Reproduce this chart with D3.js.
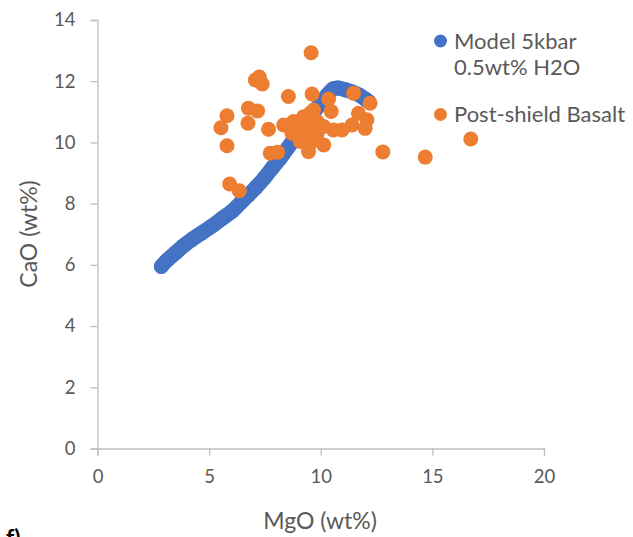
<!DOCTYPE html>
<html>
<head>
<meta charset="utf-8">
<script src="https://cdn.jsdelivr.net/npm/d3@7"></script>
<style>
  html, body { margin: 0; padding: 0; background: #fff; }
  svg { display: block; }
  text { font-family: Lato, "Open Sans", sans-serif; fill: #595959; }
</style>
</head>
<body>
<svg id="chart" width="633" height="537"></svg>
<script>
// Model liquid line of descent (5 kbar, 0.5 wt% H2O): MgO and CaO in wt%
const modelMgO = [2.86, 3.13, 3.49, 3.85, 4.25, 4.70, 5.15, 5.59, 6.04, 6.40, 6.76, 7.11,
                  7.47, 7.83, 8.19, 8.55, 8.90, 9.26, 9.62, 9.98, 10.29, 10.56, 10.78,
                  11.10, 11.41, 11.72, 11.99, 12.17];
const modelCaO = [5.95, 6.16, 6.39, 6.62, 6.84, 7.06, 7.28, 7.52, 7.76, 8.02, 8.28, 8.54,
                  8.84, 9.17, 9.49, 9.85, 10.21, 10.57, 10.93, 11.26, 11.55, 11.75, 11.78,
                  11.72, 11.65, 11.55, 11.42, 11.32];

// Post-shield basalt analyses: MgO and CaO in wt%
const basaltMgO = [9.57, 7.07, 7.25, 7.38, 8.55, 9.61, 10.35, 11.47, 12.21, 10.47, 9.68,
                   11.69, 12.07, 11.99, 11.40, 10.95, 10.57, 10.13, 8.34, 8.78, 9.23, 9.53,
                   9.83, 8.86, 9.38, 9.08, 9.53, 10.13, 9.45, 9.01, 9.83, 8.71, 6.76, 7.17,
                   5.80, 5.53, 6.74, 7.66, 5.80, 7.74, 8.07, 5.92, 6.35, 12.78, 14.68, 16.72,
                   9.26];
const basaltCaO = [12.93, 12.04, 12.14, 11.91, 11.50, 11.58, 11.42, 11.61, 11.28, 11.01, 11.06,
                   10.95, 10.74, 10.46, 10.57, 10.41, 10.41, 10.52, 10.57, 10.68, 10.84, 10.95,
                   10.68, 10.35, 10.41, 10.03, 9.97, 9.92, 9.70, 10.52, 10.25, 10.30, 11.12, 11.03,
                   10.87, 10.48, 10.63, 10.43, 9.89, 9.65, 9.68, 8.64, 8.42, 9.69, 9.52, 10.11,
                   10.67];

const xTicks = [0, 5, 10, 15, 20];
const yTicks = [0, 2, 4, 6, 8, 10, 12, 14];
const legendLabels = [["Model 5kbar", "0.5wt% H2O"], ["Post-shield Basalt"]];
const xTitle = "MgO (wt%)";
const yTitle = "CaO (wt%)";
const panelLabel = "f)";

const BLUE = "#4472C4";
const ORANGE = "#ED7D31";
const AXIS = "#bfbfbf";

const svg = d3.select("#chart");

const x = d3.scaleLinear().domain([0, 20]).range([97.5, 544]);
const y = d3.scaleLinear().domain([0, 14]).range([448.5, 20]);

// Axes
const xAxis = svg.append("g")
  .attr("transform", `translate(0,${y(0)})`)
  .call(d3.axisBottom(x).tickValues(xTicks).tickSize(7).tickPadding(14).tickFormat(d3.format("d")));
const yAxis = svg.append("g")
  .attr("transform", `translate(${x(0)},0)`)
  .call(d3.axisLeft(y).tickValues(yTicks).tickSize(7).tickPadding(15).tickFormat(d3.format("d")));

[xAxis, yAxis].forEach(g => {
  g.select(".domain").attr("stroke", AXIS).attr("stroke-width", 1.3);
  g.selectAll(".tick line").attr("stroke", AXIS).attr("stroke-width", 1.3);
  g.selectAll(".tick text")
    .attr("fill", "#595959")
    .style("font-family", "Lato, 'Open Sans', sans-serif")
    .style("font-size", "18.5px");
});
xAxis.selectAll(".tick text").attr("dy", "0.71em");

// Model curve: dense markers form a continuous band
const model = modelMgO.map((m, i) => ({ m, c: modelCaO[i] }));
const line = d3.line().x(d => x(d.m)).y(d => y(d.c)).curve(d3.curveCatmullRom);
svg.append("path")
  .datum(model)
  .attr("d", line)
  .attr("fill", "none")
  .attr("stroke", BLUE)
  .attr("stroke-width", 15)
  .attr("stroke-linecap", "round")
  .attr("stroke-linejoin", "round");
svg.append("g").selectAll("circle")
  .data(model).join("circle")
  .attr("cx", d => x(d.m)).attr("cy", d => y(d.c))
  .attr("r", 7.5).attr("fill", BLUE);

// Basalt samples
const basalt = basaltMgO.map((m, i) => ({ m, c: basaltCaO[i] }));
svg.append("g").selectAll("circle")
  .data(basalt).join("circle")
  .attr("cx", d => x(d.m)).attr("cy", d => y(d.c))
  .attr("r", 7.5).attr("fill", ORANGE);

// Axis titles
svg.append("text")
  .attr("x", 320).attr("y", 529)
  .attr("text-anchor", "middle")
  .style("font-size", "23px")
  .text(xTitle);
svg.append("text")
  .attr("transform", "translate(37,234) rotate(-90)")
  .attr("text-anchor", "middle")
  .style("font-size", "23px")
  .text(yTitle);

// Legend
const legend = svg.append("g");
legend.append("circle").attr("cx", 440.5).attr("cy", 41).attr("r", 6.5).attr("fill", BLUE);
legend.append("text").attr("x", 454).attr("y", 48.5).style("font-size", "22px").text(legendLabels[0][0]);
legend.append("text").attr("x", 454).attr("y", 74.5).style("font-size", "22px").text(legendLabels[0][1]);
legend.append("circle").attr("cx", 440.5).attr("cy", 114.5).attr("r", 6.5).attr("fill", ORANGE);
legend.append("text").attr("x", 454).attr("y", 122).style("font-size", "22px").text(legendLabels[1][0]);

// Panel label
svg.append("text")
  .attr("x", 6).attr("y", 546)
  .style("font-size", "23px")
  .style("font-weight", "bold")
  .style("fill", "#000")
  .text(panelLabel);
</script>
</body>
</html>
